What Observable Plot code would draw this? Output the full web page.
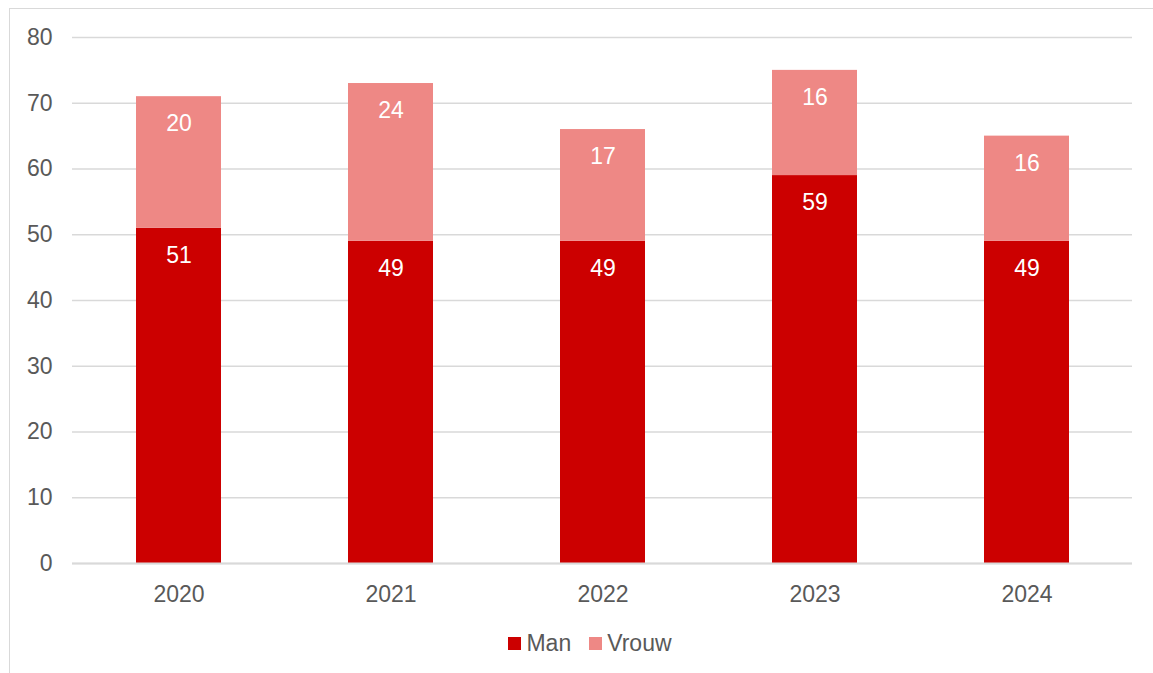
<!DOCTYPE html>
<html>
<head>
<meta charset="utf-8">
<script src="https://cdn.jsdelivr.net/npm/d3@7"></script>
<script src="https://cdn.jsdelivr.net/npm/@observablehq/plot@0.6"></script>
<style>
  html, body { margin: 0; padding: 0; background: #fff; overflow: hidden; }
  #wrap { position: relative; width: 1153px; height: 673px; font-family: "Liberation Sans", Arial, sans-serif; }
  #frame { position: absolute; left: 9px; top: 8px; width: 1200px; height: 700px; border: 1.5px solid #d9d9d9; box-sizing: border-box; }
  #chart { position: absolute; left: 0; top: 0; }
  #legend { position: absolute; left: 0; top: 629px; width: 1153px; display: flex; justify-content: center; gap: 18px; font-size: 23px; line-height: 28px; color: #595959; padding-left: 27px; box-sizing: border-box; }
  .item { display: flex; align-items: center; gap: 5px; }
  .sw { width: 13px; height: 13px; display: inline-block; }
</style>
</head>
<body>
<div id="wrap">
  <div id="frame"></div>
  <div id="chart"></div>
  <div id="legend"></div>
</div>
<script>
const years = ["2020", "2021", "2022", "2023", "2024"];
const man = [51, 49, 49, 59, 49];
const vrouw = [20, 24, 17, 16, 16];
const seriesNames = ["Man", "Vrouw"];
const seriesColors = ["#cc0000", "#ee8885"];
const yTicks = [0, 10, 20, 30, 40, 50, 60, 70, 80];

const data = [];
years.forEach((y, i) => {
  data.push({year: y, series: "Man", value: man[i], y1: 0, y2: man[i]});
  data.push({year: y, series: "Vrouw", value: vrouw[i], y1: man[i], y2: man[i] + vrouw[i]});
});

const chart = Plot.plot({
  width: 1153,
  height: 620,
  marginTop: 37,
  marginBottom: 57,
  marginLeft: 72,
  marginRight: 21,
  style: {fontFamily: "'Liberation Sans', Arial, sans-serif", fontSize: "23px", color: "#595959", background: "transparent", overflow: "visible"},
  x: {domain: years, paddingInner: 0.6, paddingOuter: 0.3, label: null},
  y: {domain: [0, 80], label: null},
  color: {domain: seriesNames, range: seriesColors},
  marks: [
    Plot.ruleY(yTicks, {stroke: "#d9d9d9", strokeWidth: 1.5}),
    Plot.rectY(data, {x: "year", y1: "y1", y2: "y2", fill: "series"}),
    Plot.ruleY([0], {stroke: "#d9d9d9", strokeWidth: 2}),
    Plot.text(data, {x: "year", y: "y2", text: d => String(d.value), dy: 27, fill: "white", fontSize: 23}),
    Plot.axisX({tickSize: 0, tickPadding: 22, fontSize: 23, fill: "#595959", label: null}),
    Plot.axisY({ticks: yTicks, tickSize: 0, tickPadding: 20, fontSize: 23, fill: "#595959", label: null})
  ]
});
document.getElementById("chart").appendChild(chart);

const legend = document.getElementById("legend");
seriesNames.forEach((n, i) => {
  const it = document.createElement("div");
  it.className = "item";
  it.innerHTML = `<span class="sw" style="background:${seriesColors[i]}"></span><span>${n}</span>`;
  legend.appendChild(it);
});
</script>
</body>
</html>
